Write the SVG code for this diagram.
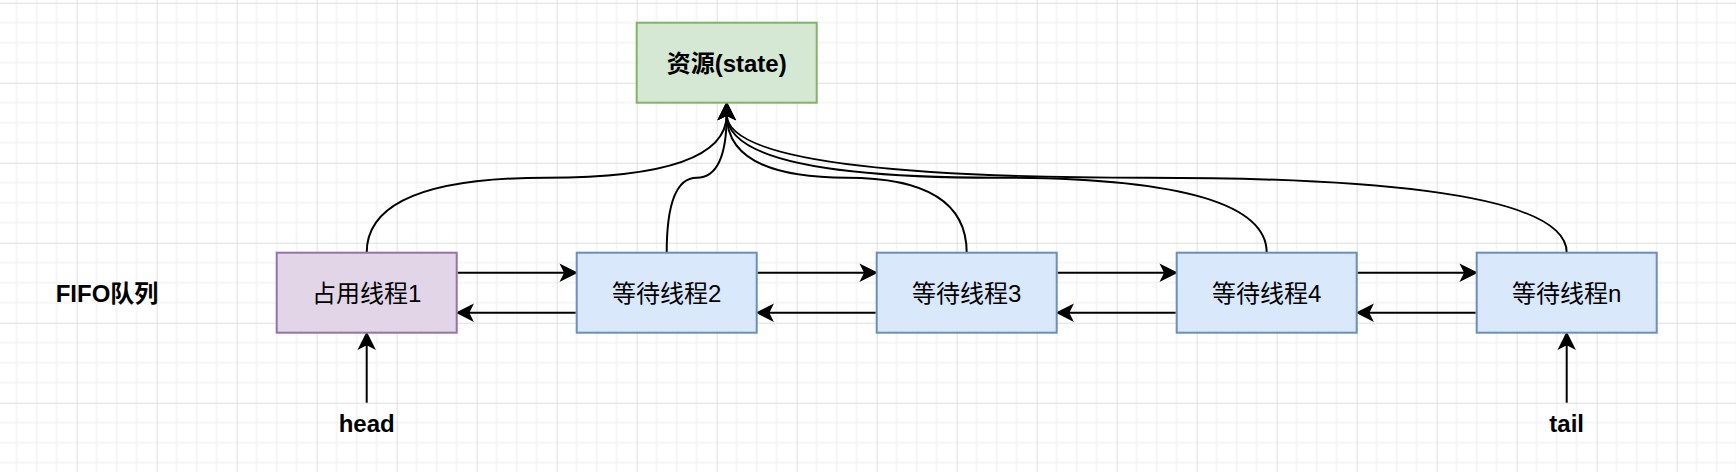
<svg xmlns="http://www.w3.org/2000/svg" width="1736" height="472" viewBox="0 0 1736 472">
  <defs>
    <pattern id="grid" patternUnits="userSpaceOnUse" x="76.7" y="2.7" width="80" height="80">
      <path d="M20,0V80M40,0V80M60,0V80M0,20H80M0,40H80M0,60H80" stroke="#f3f3f3" stroke-width="1.5" fill="none"/>
      <path d="M0.5,0V80M0,0.5H80" stroke="#dedede" stroke-width="1" fill="none"/>
    </pattern>
    <marker id="arrow" viewBox="0 0 20 20" markerUnits="userSpaceOnUse" markerWidth="20" markerHeight="20" refX="5.5" refY="10" orient="auto" overflow="visible">
      <path d="M16,10 L2,3 L5.5,10 L2,17 Z" fill="#000" stroke="#000" stroke-width="2" stroke-linejoin="miter"/>
    </marker>
    <style>
      .box { stroke-width: 2; }
      .res { fill: #d5e8d4; stroke: #82b366; }
      .occ { fill: #e1d5e7; stroke: #9673a6; }
      .wait { fill: #dae8fc; stroke: #6c8ebf; }
      .lbl { font-family: "Liberation Sans", "Noto Sans CJK SC", sans-serif; font-size: 24px; fill: #000; text-anchor: middle; }
      .b { font-weight: bold; }
      .edge { fill: none; stroke: #000; stroke-width: 2; marker-end: url(#arrow); }
    </style>
  </defs>
  <rect x="0" y="0" width="1736" height="472" fill="#ffffff"/>
  <rect x="0" y="0" width="1736" height="472" fill="url(#grid)"/>

  <g id="connectors">
    <path class="edge" d="M366.7,252.7 Q366.7,177.7 546.7,177.7 Q726.7,177.7 726.7,114.5"/>
    <path class="edge" d="M666.7,252.7 Q666.7,177.7 696.7,177.7 Q726.7,177.7 726.7,114.5"/>
    <path class="edge" d="M966.7,252.7 Q966.7,177.7 846.7,177.7 Q726.7,177.7 726.7,114.5"/>
    <path class="edge" d="M1266.7,252.7 Q1266.7,177.7 996.7,177.7 Q726.7,177.7 726.7,114.5"/>
    <path class="edge" d="M1566.7,252.7 Q1566.7,177.7 1146.7,177.7 Q726.7,177.7 726.7,114.5"/>

    <path class="edge" d="M457.7,272.7 H565.2"/>
    <path class="edge" d="M575.7,312.7 H468.2"/>
    <path class="edge" d="M757.7,272.7 H865.2"/>
    <path class="edge" d="M875.7,312.7 H768.2"/>
    <path class="edge" d="M1057.7,272.7 H1165.2"/>
    <path class="edge" d="M1175.7,312.7 H1068.2"/>
    <path class="edge" d="M1357.7,272.7 H1465.2"/>
    <path class="edge" d="M1475.7,312.7 H1368.2"/>

    <path class="edge" d="M366.7,402.7 V344.2"/>
    <path class="edge" d="M1566.7,402.7 V344.2"/>
  </g>

  <g id="resource">
    <rect class="box res" x="636.7" y="22.7" width="180" height="80"/>
    <text class="lbl b" x="726.7" y="71.5">资源(state)</text>
  </g>
  <g id="fifo-label">
    <text class="lbl b" x="107" y="302">FIFO队列</text>
  </g>
  <g id="thread1">
    <rect class="box occ" x="276.7" y="252.7" width="180" height="80"/>
    <text class="lbl" x="366.7" y="301.5">占用线程1</text>
  </g>
  <g id="thread2">
    <rect class="box wait" x="576.7" y="252.7" width="180" height="80"/>
    <text class="lbl" x="666.7" y="301.5">等待线程2</text>
  </g>
  <g id="thread3">
    <rect class="box wait" x="876.7" y="252.7" width="180" height="80"/>
    <text class="lbl" x="966.7" y="301.5">等待线程3</text>
  </g>
  <g id="thread4">
    <rect class="box wait" x="1176.7" y="252.7" width="180" height="80"/>
    <text class="lbl" x="1266.7" y="301.5">等待线程4</text>
  </g>
  <g id="threadn">
    <rect class="box wait" x="1476.7" y="252.7" width="180" height="80"/>
    <text class="lbl" x="1566.7" y="301.5">等待线程n</text>
  </g>
  <g id="head">
    <text class="lbl b" x="366.7" y="431.5">head</text>
  </g>
  <g id="tail">
    <text class="lbl b" x="1566.7" y="431.5">tail</text>
  </g>
</svg>
